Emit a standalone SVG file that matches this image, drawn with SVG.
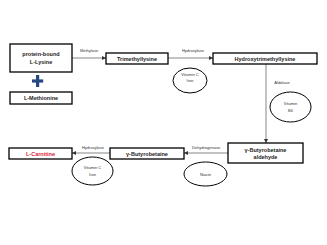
<svg xmlns="http://www.w3.org/2000/svg" width="327" height="245" viewBox="0 0 327 245">
<style>
.box{fill:#fff;stroke:#000;stroke-width:1.3}
.bt{font-family:"Liberation Sans",Arial,sans-serif;font-size:5.5px;font-weight:bold;text-anchor:middle;fill:#222}
.lt{font-family:"Liberation Sans",Arial,sans-serif;font-size:4px;text-anchor:middle;fill:#333}
.el{fill:#fff;stroke:#000;stroke-width:1}
.ar{stroke:#555;stroke-width:0.7;fill:none;marker-end:url(#ah)}
</style>
<defs>
<marker id="ah" viewBox="0 0 6 6" refX="6" refY="3" markerWidth="4" markerHeight="4" orient="auto" markerUnits="userSpaceOnUse">
<path d="M0,0L6,3L0,6z" fill="#333"/>
</marker>
</defs>
<rect width="327" height="245" fill="#fff"/>
<g id="connectors">
<path class="ar" d="M72,58H106"/>
<text class="lt" x="89" y="52">Methylase</text>
<path class="ar" d="M168,58H213"/>
<text class="lt" x="193" y="52">Hydroxylase</text>
<path class="ar" d="M266,64V143"/>
<text class="lt" x="282" y="84">Aldolase</text>
<path class="ar" d="M228,153H184"/>
<text class="lt" x="206" y="149">Dehydrogenase</text>
<path class="ar" d="M110,153H72"/>
<text class="lt" x="93" y="149">Hydroxylase</text>
</g>
<g id="lysine">
<rect class="box" x="10" y="44" width="62" height="28"/>
<text class="bt" x="41" y="56">protein-bound</text>
<text class="bt" x="41" y="64">L-Lysine</text>
</g>
<g id="plus">
<rect x="36" y="75" width="3.2" height="12" fill="#24487f"/>
<rect x="32" y="79.4" width="11.2" height="3.2" fill="#24487f"/>
</g>
<g id="methionine">
<rect class="box" x="10" y="92" width="62" height="12"/>
<text class="bt" x="41" y="100">L-Methionine</text>
</g>
<g id="trimethyllysine">
<rect class="box" x="106" y="53" width="62" height="11"/>
<text class="bt" x="137" y="60.5">Trimethyllysine</text>
</g>
<g id="hydroxytrimethyllysine">
<rect class="box" x="213" y="53" width="104" height="11"/>
<text class="bt" x="265" y="60.5">Hydroxytrimethyllysine</text>
</g>
<g id="vitc1">
<ellipse class="el" cx="190" cy="80.5" rx="17" ry="12.5"/>
<text class="lt" x="190" y="76">Vitamin C</text>
<text class="lt" x="190" y="82">Iron</text>
</g>
<g id="vitb6">
<ellipse class="el" cx="290.5" cy="107" rx="20.5" ry="15"/>
<text class="lt" x="290.5" y="105">Vitamin</text>
<text class="lt" x="290.5" y="111.5">B6</text>
</g>
<g id="aldehyde">
<rect class="box" x="228" y="143" width="75" height="20"/>
<text class="bt" x="265.5" y="152">γ-Butyrobetaine</text>
<text class="bt" x="265.5" y="159">aldehyde</text>
</g>
<g id="niacin">
<ellipse class="el" cx="205.5" cy="174" rx="21.5" ry="12"/>
<text class="lt" x="205.5" y="175.5">Niacin</text>
</g>
<g id="butyrobetaine">
<rect class="box" x="110" y="148" width="74" height="11"/>
<text class="bt" x="147" y="155.5">γ-Butyrobetaine</text>
</g>
<g id="vitc2">
<ellipse class="el" cx="92.5" cy="171" rx="20.5" ry="14"/>
<text class="lt" x="92.5" y="169">Vitamin C</text>
<text class="lt" x="92.5" y="175.5">Iron</text>
</g>
<g id="carnitine">
<rect class="box" x="9" y="148" width="63" height="11"/>
<text class="bt" x="40.5" y="155.5" style="fill:#e0203a">L-Carnitine</text>
</g>
</svg>
